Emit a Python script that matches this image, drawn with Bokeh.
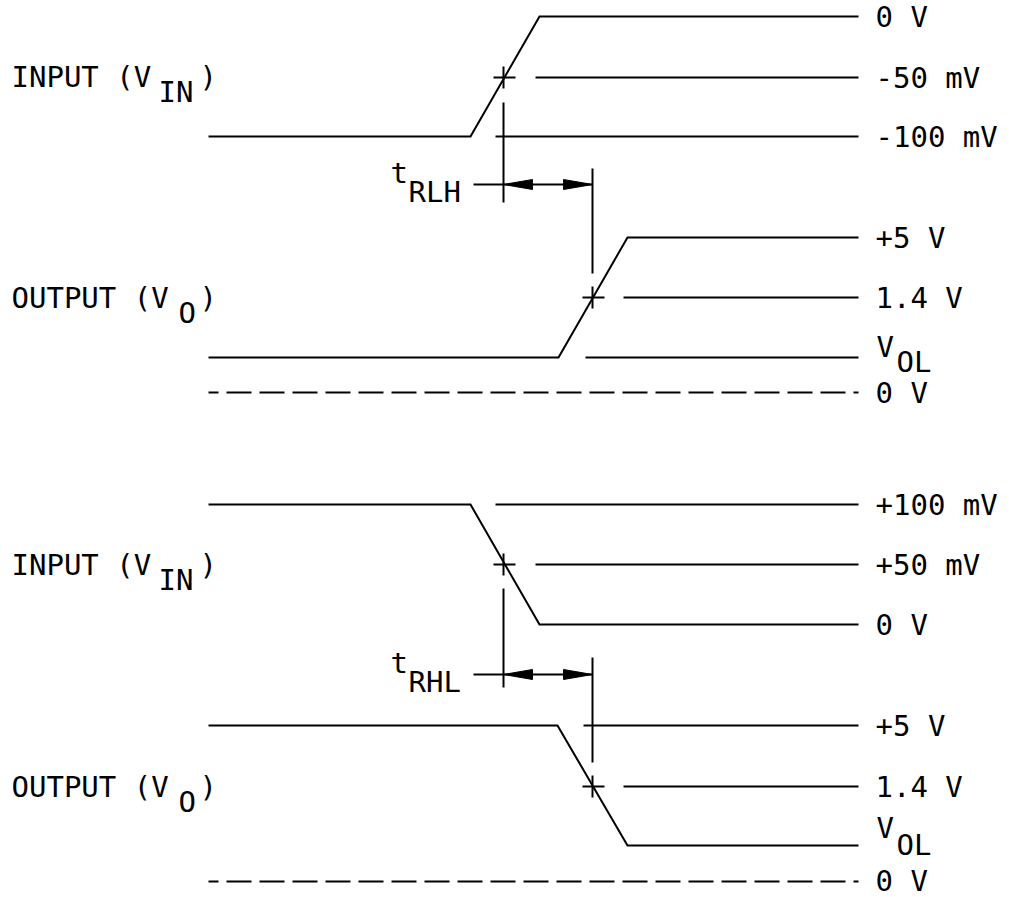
from bokeh.plotting import figure
from bokeh.models import Range1d
from bokeh.core.properties import value
from bokeh.embed import file_html
from bokeh.resources import INLINE

# ---- Waveforms (time units on x, drawing level on y; y grows downward) ----
in_rise_x = [208, 470, 539, 858]
in_rise_y = [136, 136, 16, 16]
out_rise_x = [208, 558, 627, 858]
out_rise_y = [357, 357, 237, 237]
in_fall_x = [208, 470, 539, 858]
in_fall_y = [504, 504, 624, 624]
out_fall_x = [208, 557, 627, 858]
out_fall_y = [725, 725, 845, 845]

# ---- Reference level lines: start x, end x, level ----
ref_x0 = [535, 495, 623, 585, 495, 535, 583, 623]
ref_x1 = [858, 858, 858, 858, 858, 858, 858, 858]
ref_y = [77, 136, 297, 357, 504, 564, 725, 786]

# ---- Ground (0 V) dashed lines ----
gnd_x0 = [208, 208]
gnd_x1 = [858, 858]
gnd_y = [392, 881]

# ---- Threshold crossing marks ----
cross_x = [503, 592, 503, 592]
cross_y = [77, 297, 564, 786]
cross_half = 11

# ---- Vertical timing markers ----
mark_x = [503, 592, 503, 592]
mark_y0 = [102, 168, 588, 657]
mark_y1 = [202, 273, 687, 762]

# ---- Delay dimension arrows ----
arrow_x0 = [503, 503]
arrow_x1 = [592, 592]
arrow_y = [184, 674]
leader_x0 = [473, 473]
head_len = 29
head_hw = 5

# ---- Right-hand level labels ----
right_labels = ["0 V", "-50 mV", "-100 mV", "+5 V", "1.4 V", "0 V",
                "+100 mV", "+50 mV", "0 V", "+5 V", "1.4 V", "0 V"]
right_label_y = [16, 77, 136, 237, 297, 392, 504, 564, 624, 725, 786, 880]
vol_y = [357, 845]

# ---- Left-hand signal labels ----
left_main = ["INPUT (V", "OUTPUT (V", "INPUT (V", "OUTPUT (V"]
left_sub = ["IN", "O", "IN", "O"]
left_base = [87, 308, 575, 797]
left_sub_x = [158, 178, 158, 178]
left_paren_x = [199, 199, 199, 199]

# ---- Delay labels ----
delay_sub = ["RLH", "RHL"]
delay_base = [183, 673]

FONT = value("DejaVu Sans Mono")
FS = value("29px")
LW = 2
W, H = 1001, 897
DY = -11  # baseline correction

p = figure(width=W, height=H, x_range=Range1d(0, W), y_range=Range1d(H, 0),
           output_backend="svg", toolbar_location=None,
           x_axis_location=None, y_axis_location=None, min_border=0)
p.grid.visible = False
p.outline_line_color = None
p.background_fill_color = "white"
p.border_fill_color = "white"

for xs, ys in [(in_rise_x, in_rise_y), (out_rise_x, out_rise_y),
               (in_fall_x, in_fall_y), (out_fall_x, out_fall_y)]:
    p.line(xs, ys, line_color="black", line_width=LW, line_join="miter")

p.segment(x0=ref_x0, y0=ref_y, x1=ref_x1, y1=ref_y, line_color="black", line_width=LW)
p.segment(x0=gnd_x0, y0=gnd_y, x1=gnd_x1, y1=gnd_y, line_color="black", line_width=LW,
          line_dash="25 8", line_dash_offset=15)

# crosses
p.segment(x0=[x - cross_half + 1 for x in cross_x], y0=cross_y,
          x1=[x + cross_half + 1 for x in cross_x], y1=cross_y,
          line_color="black", line_width=LW)
p.segment(x0=cross_x, y0=[y - cross_half for y in cross_y],
          x1=cross_x, y1=[y + cross_half for y in cross_y],
          line_color="black", line_width=LW)

# vertical markers
p.segment(x0=mark_x, y0=mark_y0, x1=mark_x, y1=mark_y1, line_color="black", line_width=LW)

# leaders and arrow shafts
p.segment(x0=leader_x0, y0=arrow_y, x1=arrow_x0, y1=arrow_y, line_color="black", line_width=LW)
p.segment(x0=arrow_x0, y0=arrow_y, x1=arrow_x1, y1=arrow_y, line_color="black", line_width=LW)

hx, hy = [], []
for a, b, y in zip(arrow_x0, arrow_x1, arrow_y):
    hx.append([a, a + head_len, a + head_len])
    hy.append([y, y - head_hw, y + head_hw])
    hx.append([b, b - head_len, b - head_len])
    hy.append([y, y - head_hw, y + head_hw])
p.patches(hx, hy, fill_color="black", line_color="black", line_width=1)

def txt(xs, ys, texts):
    p.text(x=xs, y=[y + DY for y in ys], text=texts, text_font=FONT, text_font_size=FS,
           text_baseline="alphabetic", text_align="left", text_color="black")

# right labels
txt([875] * len(right_labels), [y + 11 for y in right_label_y], right_labels)
txt([876] * 2, [vol_y[0], vol_y[1] - 7], ["V", "V"])
txt([896] * 2, [vol_y[0] + 15, vol_y[1] + 10], ["OL", "OL"])

# left labels
txt([11] * 4, left_base, left_main)
txt(left_sub_x, [b + 15 for b in left_base], left_sub)
txt(left_paren_x, left_base, [")"] * 4)

# delay labels
txt([390, 390], delay_base, ["t", "t"])
txt([408, 408], [b + 19 for b in delay_base], delay_sub)

open("out.html", "w").write(file_html(p, INLINE))
